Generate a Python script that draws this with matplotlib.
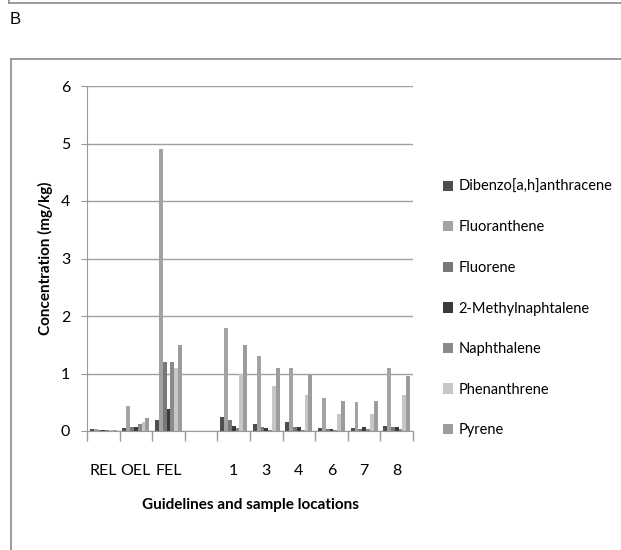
import matplotlib
matplotlib.use("Agg")
import matplotlib.pyplot as plt
import numpy as np
from matplotlib.lines import Line2D

categories = ["REL", "OEL", "FEL", "", "1", "3", "4", "6", "7", "8"]
series_names = ["Dibenzo[a,h]anthracene", "Fluoranthene", "Fluorene",
                "2-Methylnaphtalene", "Naphthalene", "Phenanthrene", "Pyrene"]
dibenzo      = [0.03, 0.05, 0.19, 0, 0.25, 0.13, 0.15, 0.05, 0.05, 0.09]
fluoranthene = [0.04, 0.44, 4.90, 0, 1.80, 1.30, 1.10, 0.57, 0.50, 1.10]
fluorene     = [0.02, 0.07, 1.20, 0, 0.19, 0.07, 0.07, 0.03, 0.03, 0.07]
methylnaph   = [0.02, 0.07, 0.38, 0, 0.08, 0.05, 0.07, 0.03, 0.07, 0.07]
naphthalene  = [0.02, 0.13, 1.20, 0, 0.06, 0.01, 0.01, 0.01, 0.03, 0.03]
phenanthrene = [0.02, 0.15, 1.10, 0, 1.00, 0.78, 0.62, 0.30, 0.30, 0.63]
pyrene       = [0.02, 0.23, 1.50, 0, 1.50, 1.10, 1.00, 0.52, 0.52, 0.95]
series = [dibenzo, fluoranthene, fluorene, methylnaph, naphthalene, phenanthrene, pyrene]
colors = ["#4f4f4f", "#a3a3a3", "#787878", "#3a3a3a", "#8a8a8a", "#c6c6c6", "#9c9c9c"]

W, H = 621, 550
fig = plt.figure(figsize=(W/100, H/100), dpi=100)
plt.rcParams['font.family'] = ['Lato', 'DejaVu Sans']

ax = fig.add_axes([87/W, 1-431/H, (413-87)/W, (431-86)/H])
x = np.arange(len(categories))
n = len(series)
bw = 1/(n+1.5)
for i, (vals, c, name) in enumerate(zip(series, colors, series_names)):
    ax.bar(x + (i - (n-1)/2)*bw, vals, width=bw, color=c, label=name, linewidth=0)

ax.set_xlim(-0.5, len(categories)-0.5)
ax.set_ylim(0, 6)
ax.set_yticks(range(0, 7))
ax.yaxis.grid(True, color="#a0a0a0", linewidth=1)
ax.set_axisbelow(True)
ax.set_xticks(x)
ax.set_xticklabels(categories, fontsize=11.5)
ax.tick_params(axis='x', length=0, pad=24)
ax.set_xticks(np.arange(-0.5, len(categories)), minor=True)
ax.tick_params(axis='x', which='minor', length=7, color="#999999", width=1)
ax.tick_params(axis='y', length=4, color="#999999", labelsize=11.5, pad=8)
for s in ["top", "right"]:
    ax.spines[s].set_visible(False)
for s in ["left", "bottom"]:
    ax.spines[s].set_color("#999999")
ax.set_ylabel("Concentration (mg/kg)", fontsize=11, fontweight="bold", labelpad=6)
ax.set_xlabel("Guidelines and sample locations", fontsize=11, fontweight="bold", labelpad=14)

leg = ax.legend(loc="upper left", bbox_to_anchor=(437/W, 1-174/H), bbox_transform=fig.transFigure,
                frameon=False, fontsize=10.5, handlelength=0.7, handleheight=0.7,
                labelspacing=1.82, handletextpad=0.35, borderaxespad=0)

# frames
fc = "#8a8a8a"
fig.add_artist(Line2D([9/W, 1], [1-3/H, 1-3/H], color=fc, lw=1.2, transform=fig.transFigure))
fig.add_artist(Line2D([9/W, 9/W], [1, 1-3/H], color=fc, lw=1.2, transform=fig.transFigure))
fig.add_artist(Line2D([11/W, 1], [1-59/H, 1-59/H], color=fc, lw=1.2, transform=fig.transFigure))
fig.add_artist(Line2D([11/W, 11/W], [0, 1-59/H], color=fc, lw=1.2, transform=fig.transFigure))
fig.text(10/W, 1-20/H, "B", fontsize=12, family="Liberation Sans", va="center", ha="left")

fig.savefig("out.png", dpi=100)
